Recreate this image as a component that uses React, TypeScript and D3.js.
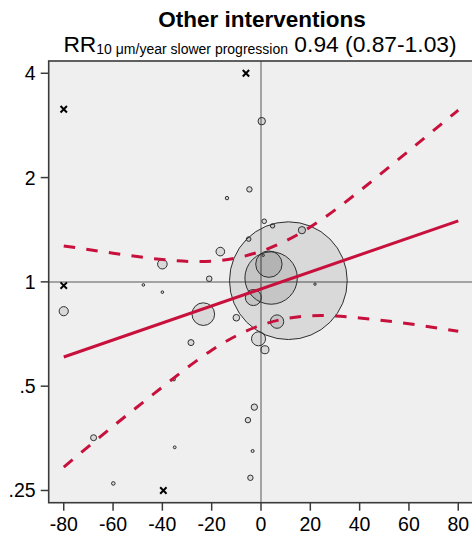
import React from "react";
import * as d3 from "d3";

// Studies: x = difference (µm/year), rr = relative risk, w = weight
const studyX = [-80, -47.7, -40.0, -40.0, -23.4, -21.0, -16.5, -13.8, -10.0, -28.4, -35.3, -67.9, -35.0, -59.9, 0.3, -4.7, 1.3, 4.7, 16.6, -5.0, 0.9, 3.2, 4.1, 11.1, 21.9, -3.1, 6.5, -1.0, 1.6, -2.7, -5.3, -3.4, -4.3];
const studyRR = [0.823, 0.98, 0.934, 1.125, 0.807, 1.021, 1.223, 1.745, 0.788, 0.668, 0.523, 0.355, 0.333, 0.262, 2.91, 1.849, 1.496, 1.451, 1.41, 1.329, 1.193, 1.125, 1.026, 1.008, 0.985, 0.901, 0.768, 0.685, 0.637, 0.435, 0.399, 0.325, 0.272];
const studyW = [0.21, 0.017, 0.017, 0.23, 1.28, 0.078, 0.185, 0.029, 0.109, 0.09, 0.0225, 0.09, 0.02, 0.032, 0.137, 0.073, 0.053, 0.048, 0.13, 0.053, 0.014, 1.74, 6.86, 34.6, 0.014, 0.64, 0.45, 0.49, 0.16, 0.1, 0.073, 0.0225, 0.073];

// Out-of-range studies (shown as crosses)
const outX = [-80, -80, -6.1, -39.6];
const outRR = [3.15, 0.976, 4.0, 0.25];

// Fitted regression line and 95% CI
const fitX = [-80, 80];
const fitRR = [0.607, 1.5];
const ciX = [-80, -60, -40, -20, 0, 20, 40, 60, 80];
const ciUpper = [1.27, 1.21, 1.16, 1.148, 1.225, 1.44, 1.83, 2.39, 3.13];
const ciLower = [0.292, 0.383, 0.497, 0.635, 0.75, 0.798, 0.787, 0.757, 0.72];

const xTicks = [-80, -60, -40, -20, 0, 20, 40, 60, 80];
const yTicks = [4, 2, 1, 0.5, 0.25];
const yTickLabels = ["4", "2", "1", ".5", ".25"];

const title = "Other interventions";
const subMain = "RR";
const subSub = "10 μm/year slower progression";
const subValue = " 0.94 (0.87-1.03)";

const W = 472;
const H = 535;
const RED = "#c8103c";
const FONT = "'Liberation Sans', Arial, sans-serif";

export default function App() {
  const x = d3.scaleLinear().domain([-86.1, 86.1]).range([48.7, 473.3]);
  const y = d3.scaleLog().domain([0.2305, 4.34]).range([502.7, 61]);
  const r = d3.scaleSqrt().domain([0, 35]).range([0, 59.2]);

  const [x0, x1] = x.range();
  const [yb, yt] = y.range();

  const fitLine = d3
    .line<number>()
    .x((_, i) => x(fitX[i]))
    .y((d) => y(d));
  const ciLine = d3
    .line<number>()
    .x((_, i) => x(ciX[i]))
    .y((d) => y(d))
    .curve(d3.curveNatural);

  const order = d3.range(studyX.length).sort((a, b) => studyW[b] - studyW[a]);

  return (
    <svg
      width={W}
      height={H}
      style={{ position: "absolute", left: 0, top: 0, background: "#fff" }}
      fontFamily={FONT}
    >
      <defs>
        <clipPath id="plotclip">
          <rect x={x0} y={yt} width={x1 - x0} height={yb - yt} />
        </clipPath>
      </defs>
      <rect x={0} y={0} width={W} height={H} fill="#ffffff" />
      {/* plot area */}
      <rect x={x0} y={yt} width={x1 - x0} height={yb - yt} fill="#efefef" />
      {/* reference lines */}
      <line x1={x(0)} x2={x(0)} y1={yt} y2={yb} stroke="#8a8a8a" strokeWidth={1.5} />
      <line x1={x0} x2={x1} y1={y(1)} y2={y(1)} stroke="#8a8a8a" strokeWidth={1.5} />
      <g clipPath="url(#plotclip)">
        {order.map((i) => (
          <circle
            key={i}
            cx={x(studyX[i])}
            cy={y(studyRR[i])}
            r={Math.max(r(studyW[i]), 1.1)}
            fill="#000"
            fillOpacity={0.09}
            stroke="#2e2e2e"
            strokeWidth={1}
          />
        ))}
        {outX.map((v, i) => {
          const cx = x(v);
          const cy = y(outRR[i]);
          const s = 3.2;
          return (
            <g key={"o" + i} stroke="#000" strokeWidth={2}>
              <line x1={cx - s} x2={cx + s} y1={cy - s} y2={cy + s} />
              <line x1={cx - s} x2={cx + s} y1={cy + s} y2={cy - s} />
            </g>
          );
        })}
        <path d={ciLine(ciUpper) || ""} fill="none" stroke={RED} strokeWidth={3} strokeDasharray="11.5 11.3" />
        <path d={ciLine(ciLower) || ""} fill="none" stroke={RED} strokeWidth={3} strokeDasharray="11.5 11.3" />
        <path d={fitLine(fitRR) || ""} fill="none" stroke={RED} strokeWidth={3} />
      </g>
      {/* frame */}
      <rect x={x0} y={yt} width={x1 - x0} height={yb - yt} fill="none" stroke="#3a3a3a" strokeWidth={1.6} />
      {/* y axis */}
      {yTicks.map((t, i) => (
        <g key={"y" + i}>
          <line x1={x0 - 8} x2={x0} y1={y(t)} y2={y(t)} stroke="#3a3a3a" strokeWidth={1.5} />
          <text x={x0 - 13} y={y(t)} dy="0.36em" textAnchor="end" fontSize={19.5} fill="#000">
            {yTickLabels[i]}
          </text>
        </g>
      ))}
      {/* x axis */}
      {xTicks.map((t) => (
        <g key={"x" + t}>
          <line x1={x(t)} x2={x(t)} y1={yb} y2={yb + 8} stroke="#3a3a3a" strokeWidth={1.5} />
          <text x={x(t)} y={530.5} textAnchor="middle" fontSize={19.5} fill="#000">
            {t}
          </text>
        </g>
      ))}
      {/* titles */}
      <text x={262} y={27} textAnchor="middle" fontSize={22.5} fontWeight="bold" fill="#000">
        {title}
      </text>
      <text x={260} y={52} textAnchor="middle" fontSize={22.8} fill="#000">
        {subMain}
        <tspan fontSize={14} dy={2}>
          {subSub}
        </tspan>
        <tspan dy={-2}>{subValue}</tspan>
      </text>
    </svg>
  );
}
